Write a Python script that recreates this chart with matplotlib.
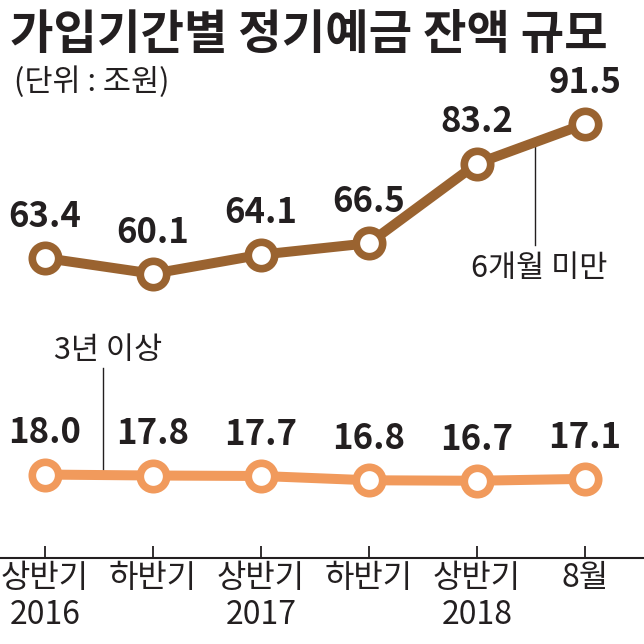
import matplotlib
matplotlib.use('Agg')
import matplotlib.pyplot as plt

plt.rcParams['font.family'] = ['Noto Sans CJK KR', 'DejaVu Sans']

TITLE = '가입기간별 정기예금 잔액 규모'
UNIT = '(단위 : 조원)'
periods = ['상반기\n2016', '하반기', '상반기\n2017', '하반기', '상반기\n2018', '8월']
under_6m = [63.4, 60.1, 64.1, 66.5, 83.2, 91.5]
over_3y = [18.0, 17.8, 17.7, 16.8, 16.7, 17.1]

BROWN = '#9a6330'
ORANGE = '#f19a5c'
INK = '#231f20'

AXIS_PX = 558  # pixel row of the baseline


def main():
    fig = plt.figure(figsize=(6.44, 6.44), dpi=100)
    ax = fig.add_axes([0, (644 - AXIS_PX) / 644, 1, AXIS_PX / 644])

    xs = list(range(len(periods)))
    for vals, color in [(under_6m, BROWN), (over_3y, ORANGE)]:
        ax.plot(xs, vals, color=color, lw=7.2, solid_capstyle='butt', zorder=2,
                marker='o', ms=19, mfc='white', mec=color, mew=5.5)
        for x, v in zip(xs, vals):
            ax.annotate(f'{v:.1f}', (x, v), xytext=(0, 30), textcoords='offset points',
                        ha='center', va='center', fontsize=25, fontweight='bold', color=INK)

    # leader lines for series names
    ax.plot([4.54, 4.54], [66.1, 87.6], color=INK, lw=1, zorder=1)
    ax.text(4.58, 61.3, '6개월 미만', ha='center', va='center', fontsize=22, color=INK)
    ax.plot([0.537, 0.537], [17.9, 40.3], color=INK, lw=1, zorder=1)
    ax.text(0.58, 44.1, '3년 이상', ha='center', va='center', fontsize=22, color=INK)

    ax.set_xlim(-45 / 108, 5 + 59 / 108)
    ax.set_ylim(63.4 - (AXIS_PX - 258) / 4.77, 63.4 + 258 / 4.77)
    for s in ['top', 'left', 'right']:
        ax.spines[s].set_visible(False)
    ax.spines['bottom'].set_linewidth(1.5)
    ax.spines['bottom'].set_color(INK)
    ax.set_yticks([])
    ax.set_xticks(xs)
    ax.set_xticklabels(periods, fontsize=23, color=INK, linespacing=1.2)
    ax.tick_params(axis='x', direction='in', length=8.5, width=1.3, color=INK, pad=3)
    ax.patch.set_alpha(0)

    fig.text(0.016, 0.945, TITLE, fontsize=34, fontweight='heavy', color=INK, va='center')
    fig.text(0.022, 0.872, UNIT, fontsize=22, color=INK, va='center')

    fig.savefig('out.png', dpi=100)


if __name__ == '__main__':
    main()
